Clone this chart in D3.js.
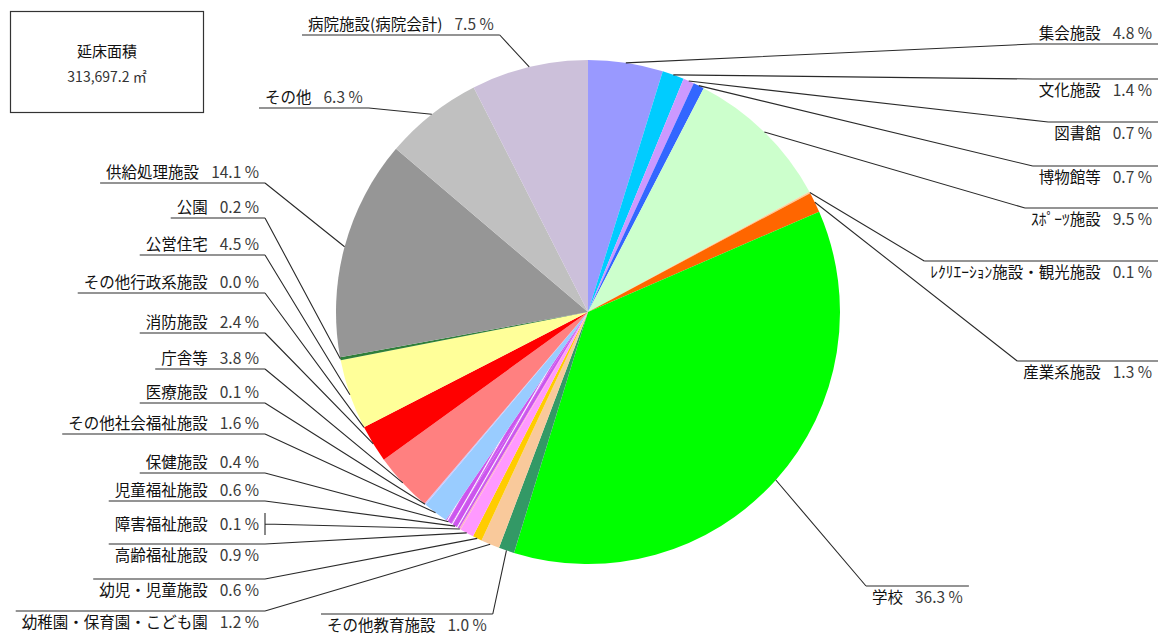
<!DOCTYPE html>
<html><head><meta charset="utf-8">
<script src="https://cdn.jsdelivr.net/npm/d3@7"></script>
<style>
body{margin:0;background:#fff}
svg{display:block}
text{font-family:"Noto Sans CJK JP","Noto Sans",sans-serif;fill:#111}
</style>
</head><body>
<svg id="chart" width="1163" height="635"></svg>
<script>
// Floor-area share by facility type (%), clockwise from 12 o'clock
const categories = ["集会施設","文化施設","図書館","博物館等","ｽﾎﾟｰﾂ施設","ﾚｸﾘｴｰｼｮﾝ施設・観光施設","産業系施設","学校",
  "その他教育施設","幼稚園・保育園・こども園","幼児・児童施設","高齢福祉施設","障害福祉施設","児童福祉施設","保健施設",
  "その他社会福祉施設","医療施設","庁舎等","消防施設","その他行政系施設","公営住宅","公園","供給処理施設","その他","病院施設(病院会計)"];
const shares = [4.8,1.4,0.7,0.7,9.5,0.1,1.3,36.3,1.0,1.2,0.6,0.9,0.1,0.6,0.4,1.6,0.1,3.8,2.4,0.0,4.5,0.2,14.1,6.3,7.5];
const sliceColors = ["#9999ff","#00ccff","#cc99ff","#3366ff","#ccffcc","#ffcc99","#ff6600","#00ff00",
  "#339966","#f9c99b","#ffcc00","#ff99ff","#ffb0c8","url(#hatch)","url(#hatch)",
  "#99ccff","#c8c8ff","#ff8080","#ff0000","#ffff99","#ffff99","#2f7f3a","#969696","#c0c0c0","#ccc0da"];
const totalTitle = "延床面積";
const totalArea = "313,697.2 ㎡";

// Label placement: text anchor, anchor x, vertical centre
const labelSlots = [
  ["end",1152,33],["end",1152,90],["end",1152,133],["end",1152,177],["end",1152,219],["end",1152,272],["end",1152,372],["start",872,597],
  ["start",327,625],["end",259,622],["end",259,590],["end",259,555],["end",259,524],["end",259,490],["end",259,462],
  ["end",259,423],["end",259,392],["end",259,358],["end",259,322],["end",259,282],["end",259,244],["end",259,207],["end",259,172],["start",265,97],["start",308,24]
];

const svg = d3.select("#chart");
const cx = 588, cy = 312, R = 252;

const defs = svg.append("defs");
const hatch = defs.append("pattern").attr("id","hatch").attr("patternUnits","userSpaceOnUse")
  .attr("width",6).attr("height",6).attr("patternTransform","rotate(30)");
hatch.append("rect").attr("width",6).attr("height",6).attr("fill","#cc55ee");
hatch.append("line").attr("x1",0).attr("y1",0).attr("x2",0).attr("y2",6)
  .attr("stroke","#ffffff").attr("stroke-width",2.2);

const data = categories.map((c,i)=>({name:c, value:shares[i], color:sliceColors[i], slot:labelSlots[i]}));

const pie = d3.pie().sort(null).value(d=>d.value).startAngle(0).endAngle(2*Math.PI);
const arcs = pie(data);
const arc = d3.arc().innerRadius(0).outerRadius(R);
const rim = d3.arc().innerRadius(R).outerRadius(R);

const g = svg.append("g").attr("transform",`translate(${cx},${cy})`);
g.selectAll("path.slice").data(arcs).join("path")
  .attr("class","slice")
  .attr("d",arc)
  .attr("fill",d=>d.data.color);

// labels with connector lines
const fmt = d3.format(".1f");
const labelG = svg.append("g");
arcs.forEach(a=>{
  const [anchor,x,y] = a.data.slot;
  const t = labelG.append("text").attr("x",x).attr("y",y).attr("dy","0.36em")
    .attr("text-anchor",anchor).style("font-size","15.5px");
  t.append("tspan").text(a.data.name);
  t.append("tspan").attr("dx",12).style("fill","#3a3a3a").text(fmt(a.data.value)+" %");
  const bb = t.node().getBBox();
  const x0 = bb.x - 6, x1 = bb.x + bb.width + 6, y0 = y - 11, y1 = y + 11;
  const [px,py] = rim.centroid(a).map((v,i)=>v + (i ? cy : cx));
  const ex = px > x1 ? x1 : x0;
  let path;
  if (py < y0) path = `M${x0},${y0}H${x1}M${ex},${y0}L${px},${py}`;
  else if (py > y1) path = `M${x0},${y1}H${x1}M${ex},${y1}L${px},${py}`;
  else path = `M${ex},${y0}V${y1}M${ex},${y}L${px},${py}`;
  labelG.append("path").attr("d",path).attr("fill","none")
    .attr("stroke","#2a2a2a").attr("stroke-width",1.1);
});

// total floor area box
const box = svg.append("g");
box.append("rect").attr("x",10.5).attr("y",11.5).attr("width",193).attr("height",101)
  .attr("fill","#fff").attr("stroke","#333").attr("stroke-width",1.2);
box.append("text").attr("x",107).attr("y",52).attr("dy","0.36em").attr("text-anchor","middle")
  .style("font-size","15px").text(totalTitle);
box.append("text").attr("x",107).attr("y",77).attr("dy","0.36em").attr("text-anchor","middle")
  .style("font-size","14px").style("fill","#333").text(totalArea);
</script>
</body></html>
